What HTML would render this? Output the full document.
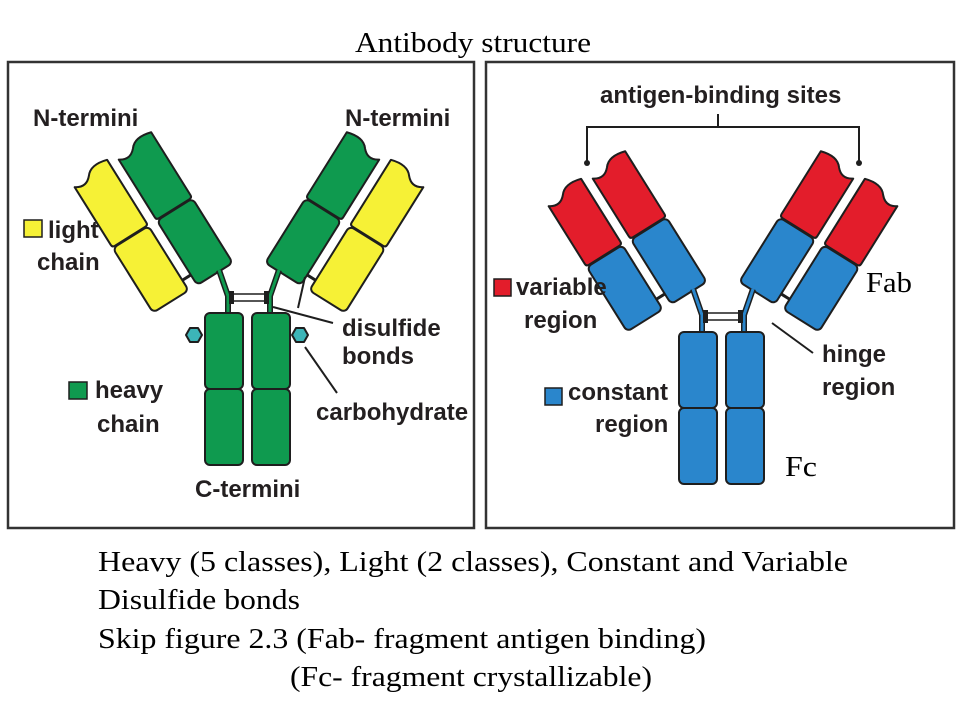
<!DOCTYPE html>
<html><head><meta charset="utf-8"><style>
html,body{margin:0;padding:0;background:#fff}
svg{display:block}
.s{font-family:"Liberation Sans",sans-serif;font-weight:bold;font-size:24px;fill:#231f20}
.t{font-family:"Liberation Serif",serif;font-size:28px;fill:#000}
.o{stroke:#1e1e1e;stroke-width:2;stroke-linejoin:round}
</style></head><body>
<svg width="960" height="720" viewBox="0 0 960 720" xmlns="http://www.w3.org/2000/svg">
<defs>
<g id="top">
 <path class="o" d="M-21,-148 Q-11,-141 -3,-150 Q4,-159 21,-154 L21,-80 Q21,-77 18,-77 L-18,-77 Q-21,-77 -21,-80 Z"/>
</g>
<g id="ab">
 <g transform="translate(215,274) rotate(-32)">
  <use href="#top" style="fill:var(--ht)"/>
  <rect class="o" x="-21" y="-76" width="42" height="76" rx="5" style="fill:var(--hb)"/>
  <g transform="translate(-52,0)">
   <use href="#top" style="fill:var(--lt)"/>
   <rect class="o" x="-21" y="-76" width="42" height="76" rx="5" style="fill:var(--lb)"/>
  </g>
  <line x1="-31" y1="-12" x2="-21" y2="-12" stroke="#1e1e1e" stroke-width="3"/>
 </g>
 <g transform="translate(283,274) rotate(32)">
  <use href="#top" style="fill:var(--ht)" transform="scale(-1,1)"/>
  <rect class="o" x="-21" y="-76" width="42" height="76" rx="5" style="fill:var(--hb)"/>
  <g transform="translate(52,0)">
   <use href="#top" style="fill:var(--lt)" transform="scale(-1,1)"/>
   <rect class="o" x="-21" y="-76" width="42" height="76" rx="5" style="fill:var(--lb)"/>
  </g>
  <line x1="21" y1="-12" x2="31" y2="-12" stroke="#1e1e1e" stroke-width="3"/>
 </g>
 <polyline points="219,270 228,296 228,315" fill="none" stroke="#1e1e1e" stroke-width="6"/>
 <polyline points="219,270 228,296 228,315" fill="none" style="stroke:var(--hb)" stroke-width="3"/>
 <polyline points="279,270 270,296 270,315" fill="none" stroke="#1e1e1e" stroke-width="6"/>
 <polyline points="279,270 270,296 270,315" fill="none" style="stroke:var(--hb)" stroke-width="3"/>
 <line x1="230" y1="294" x2="268" y2="294" stroke="#1e1e1e" stroke-width="1.5"/>
 <line x1="230" y1="301" x2="268" y2="301" stroke="#1e1e1e" stroke-width="1.5"/>
 <rect x="229" y="291" width="5" height="13" fill="#1e1e1e"/>
 <rect x="264" y="291" width="5" height="13" fill="#1e1e1e"/>
 <rect class="o" x="205" y="313" width="38" height="76" rx="5" style="fill:var(--hb)"/>
 <rect class="o" x="205" y="389" width="38" height="76" rx="5" style="fill:var(--hb)"/>
 <rect class="o" x="252" y="313" width="38" height="76" rx="5" style="fill:var(--hb)"/>
 <rect class="o" x="252" y="389" width="38" height="76" rx="5" style="fill:var(--hb)"/>
</g>
</defs>

<text class="t" x="355" y="52" textLength="236" lengthAdjust="spacingAndGlyphs">Antibody structure</text>

<rect x="8" y="62" width="466" height="466" fill="none" stroke="#333" stroke-width="2.5"/>
<rect x="486" y="62" width="468" height="466" fill="none" stroke="#333" stroke-width="2.5"/>

<use href="#ab" style="--ht:#0f9a4f;--hb:#0f9a4f;--lt:#f6f136;--lb:#f6f136"/>
<polygon class="o" points="186,335 190,328 198,328 202,335 198,342 190,342" fill="#3cb5b8"/>
<polygon class="o" points="292,335 296,328 304,328 308,335 304,342 296,342" fill="#3cb5b8"/>
<g stroke="#1e1e1e" stroke-width="2">
 <line x1="273" y1="307" x2="333" y2="323"/>
 <line x1="298" y1="308" x2="305" y2="277"/>
 <line x1="305" y1="347" x2="337" y2="393"/>
</g>
<text class="s" x="33" y="126">N-termini</text>
<text class="s" x="345" y="126">N-termini</text>
<rect x="24" y="220" width="18" height="17" fill="#f6f136" stroke="#1e1e1e" stroke-width="1.5"/>
<text class="s" x="48" y="238">light</text>
<text class="s" x="37" y="270">chain</text>
<rect x="69" y="382" width="18" height="17" fill="#0f9a4f" stroke="#1e1e1e" stroke-width="1.5"/>
<text class="s" x="95" y="398">heavy</text>
<text class="s" x="97" y="432">chain</text>
<text class="s" x="342" y="336">disulfide</text>
<text class="s" x="342" y="364">bonds</text>
<text class="s" x="316" y="420">carbohydrate</text>
<text class="s" x="195" y="497">C-termini</text>

<use href="#ab" transform="translate(474,19)" style="--ht:#e31d2b;--hb:#2a86cc;--lt:#e31d2b;--lb:#2a86cc"/>
<text class="s" x="600" y="103">antigen-binding sites</text>
<polyline points="587,163 587,127 859,127 859,163" fill="none" stroke="#1e1e1e" stroke-width="2"/>
<line x1="718" y1="127" x2="718" y2="114" stroke="#1e1e1e" stroke-width="2"/>
<circle cx="587" cy="163" r="3" fill="#1e1e1e"/>
<circle cx="859" cy="163" r="3" fill="#1e1e1e"/>
<line x1="772" y1="323" x2="813" y2="353" stroke="#1e1e1e" stroke-width="2"/>
<rect x="494" y="279" width="17" height="17" fill="#e31d2b" stroke="#1e1e1e" stroke-width="1.5"/>
<text class="s" x="516" y="295">variable</text>
<text class="s" x="524" y="328">region</text>
<text class="s" x="822" y="362">hinge</text>
<text class="s" x="822" y="395">region</text>
<rect x="545" y="388" width="17" height="17" fill="#2a86cc" stroke="#1e1e1e" stroke-width="1.5"/>
<text class="s" x="568" y="400">constant</text>
<text class="s" x="595" y="432">region</text>
<text class="t" x="866" y="292" textLength="46" lengthAdjust="spacingAndGlyphs">Fab</text>
<text class="t" x="785" y="476" textLength="32" lengthAdjust="spacingAndGlyphs">Fc</text>

<text class="t" x="98" y="571" textLength="750" lengthAdjust="spacingAndGlyphs">Heavy (5 classes), Light (2 classes), Constant and Variable</text>
<text class="t" x="98" y="609" textLength="202" lengthAdjust="spacingAndGlyphs">Disulfide bonds</text>
<text class="t" x="98" y="648" textLength="608" lengthAdjust="spacingAndGlyphs">Skip figure 2.3 (Fab- fragment antigen binding)</text>
<text class="t" x="290" y="686" textLength="362" lengthAdjust="spacingAndGlyphs">(Fc- fragment crystallizable)</text>
</svg>
</body></html>
